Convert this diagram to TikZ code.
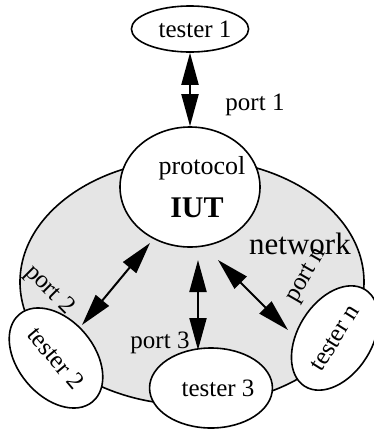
\documentclass[tikz,border=0pt]{standalone}
\usepackage{fontspec}
\setmainfont{Liberation Serif}
\usetikzlibrary{shapes.geometric,arrows.meta}

\begin{document}
\begin{tikzpicture}[x=1pt,y=-1pt,
  tbox/.style={ellipse,draw,fill=white,line width=1.6pt,inner sep=0pt,font=\fontsize{25}{25}\selectfont},
  lab/.style={inner sep=0pt,font=\fontsize{25}{25}\selectfont},
  port/.style={{Triangle[length=32pt,width=17pt]}-{Triangle[length=32pt,width=17pt]},line width=2pt}]
  \useasboundingbox (0,0) rectangle (373,429);
  \node[ellipse,draw,fill=black!10,line width=1.6pt,minimum width=344pt,minimum height=246pt] (net) at (192,282) {};
  \node[tbox,minimum width=140pt,minimum height=120pt] (iut) at (190,187) {};
  \node[lab,font=\fontsize{26}{26}\selectfont] (proto) at (202,168) {protocol};
  \node[lab,font=\fontsize{30}{30}\selectfont\bfseries] (iutname) at (197,208) {IUT};
  \node[lab,font=\fontsize{31}{31}\selectfont] (netname) at (300,244) {network};
  \node[tbox,minimum width=108pt,minimum height=46pt] (t1) at (190,29) {\hspace{10pt}tester 1};
  \coordinate (a2) at (150,243);
  \coordinate (b2) at (82,325);
  \coordinate (a3) at (198,260);
  \coordinate (b3) at (198,350);
  \coordinate (an) at (218,260);
  \coordinate (bn) at (288,330);
  \draw[port] (t1) -- (iut);
  \draw[port] (a2) -- (b2);
  \draw[port] (a3) -- (b3);
  \draw[port] (an) -- (bn);
  \node[lab] (l1) at (255,105) {port 1};
  \node[lab,rotate=-45] (l2) at (49,290) {port 2};
  \node[lab] (l3) at (160,343) {port 3};
  \node[lab,rotate=60] (ln) at (307,276) {port n};
  \node[tbox,minimum width=114pt,minimum height=76pt,rotate=-50] (t2) at (56,358) {tester 2};
  \node[tbox,minimum width=110pt,minimum height=80pt] (t3) at (211,388) {\hspace{14pt}tester 3};
  \node[tbox,minimum width=114pt,minimum height=74pt,rotate=58] (tn) at (335,338) {tester n};
\end{tikzpicture}
\end{document}
